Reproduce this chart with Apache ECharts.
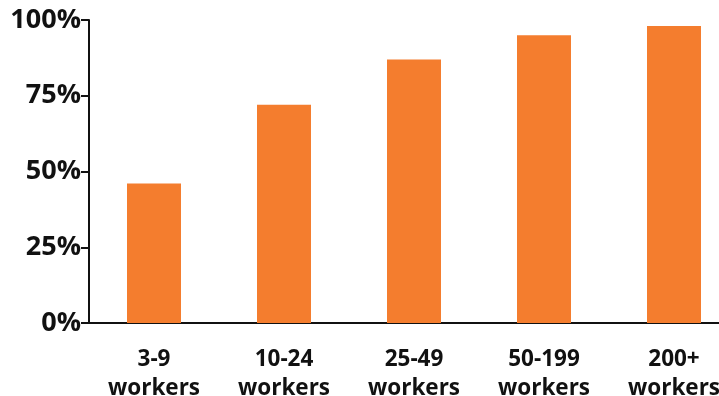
<!DOCTYPE html>
<html><head><meta charset="utf-8">
<script src="https://cdn.jsdelivr.net/npm/echarts@6/dist/echarts.min.js"></script>
<style>html,body{margin:0;padding:0;background:#fff;overflow:hidden}#c{width:719px;height:396px}</style>
</head><body><div id="c"></div>
<script>
const categories = ["3-9\nworkers", "10-24\nworkers", "25-49\nworkers", "50-199\nworkers", "200+\nworkers"];
const values = [46, 72, 87, 95, 98];
const yTicks = [0, 25, 50, 75, 100];

const chart = echarts.init(document.getElementById('c'), null, {renderer: 'canvas'});
chart.setOption({
  animation: false,
  backgroundColor: '#fff',
  grid: {left: 89, width: 650, top: 20, height: 303, containLabel: false, outerBoundsMode: 'none'},
  xAxis: {
    type: 'category',
    data: categories,
    axisLine: {show: true, lineStyle: {color: '#111', width: 2}},
    axisTick: {show: false},
    axisLabel: {
      color: '#111', fontFamily: 'Open Sans', fontWeight: 'bold', fontSize: 22.5,
      lineHeight: 29, margin: 22, interval: 0
    }
  },
  yAxis: {
    type: 'value', min: 0, max: 100, interval: 25,
    splitLine: {show: false},
    axisLine: {show: true, lineStyle: {color: '#111', width: 2}},
    axisTick: {show: true, inside: false, length: 8, lineStyle: {color: '#111', width: 2}},
    axisLabel: {
      color: '#111', fontFamily: 'Open Sans', fontWeight: 'bold', fontSize: 27, margin: 8,
      formatter: v => yTicks.includes(v) ? v + '%' : ''
    }
  },
  series: [{
    type: 'bar', data: values, barWidth: 54,
    itemStyle: {color: '#F47D2E'}
  }]
});
</script></body></html>
